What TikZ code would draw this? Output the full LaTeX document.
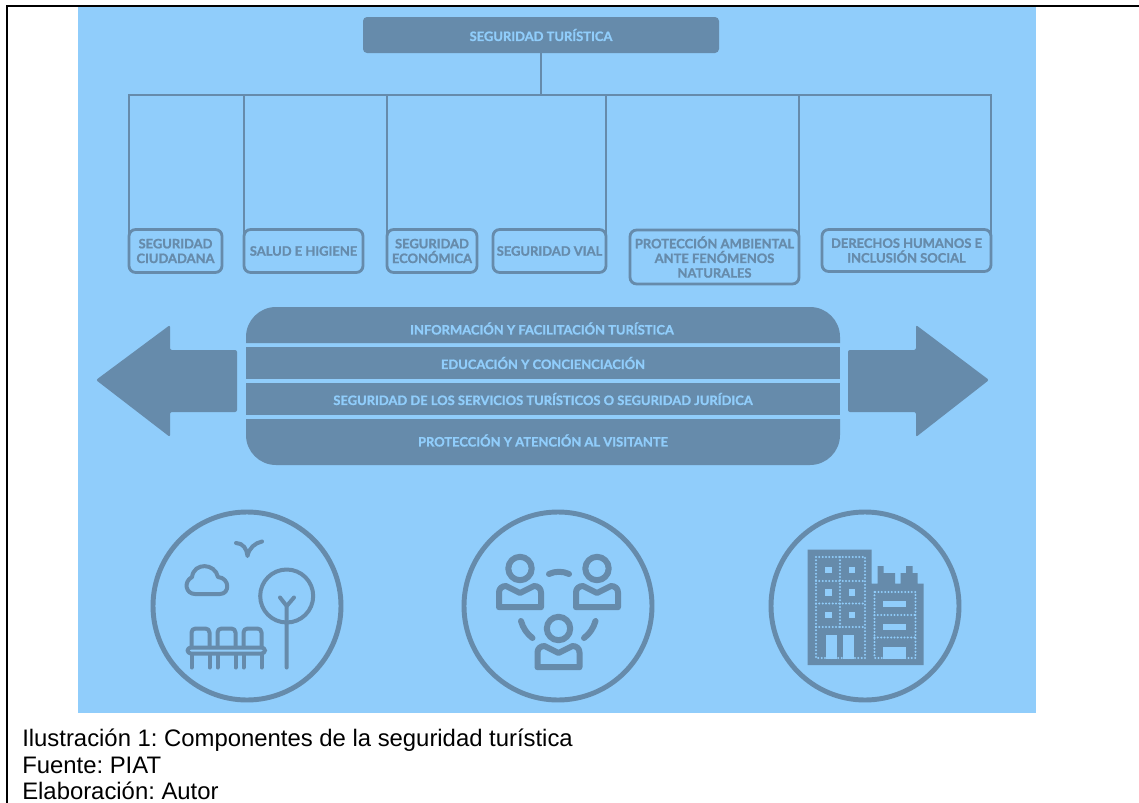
\documentclass[tikz,border=0pt]{standalone}
\usepackage{fontspec}
\setmainfont{Liberation Sans}
\newfontfamily\labelfont[BoldFeatures={FakeBold=1.2}]{Lato}
\usetikzlibrary{arrows.meta,positioning,calc}
\definecolor{skyback}{HTML}{90CDFB}
\definecolor{steel}{HTML}{668BAB}

\begin{document}
\begin{tikzpicture}[
    x=0.75pt, y=-0.75pt,
    sz/.style 2 args={minimum width=#1*0.75pt, minimum height=#2*0.75pt},
    labelfont/.style={font=\labelfont\bfseries\fontsize{9.7}{11}\selectfont},
    headbox/.style={rectangle, rounded corners=3pt, fill=steel, text=skyback, labelfont, inner sep=0pt, outer sep=0pt},
    topic/.style={rectangle, rounded corners=5pt, draw=steel, line width=2.1pt, text=steel, labelfont, align=center, inner sep=0pt, outer sep=0pt},
    row/.style={text=skyback, labelfont, inner sep=0pt, outer sep=0pt},
    link/.style={draw=steel, line width=2pt},
    ring/.style={circle, draw=steel, line width=3.7pt, inner sep=0pt, outer sep=0pt, minimum size=141pt},
    icon/.style={draw=steel, line width=3pt, line cap=round, line join=round},
    fat/.style={icon, line width=4.5pt},
    beads/.style={draw=skyback, line width=1.7pt, line cap=round, dash pattern=on 0pt off 2.5pt},
    person/.pic={
        \draw[fat] (0,0) circle (11.7);
        \draw[fat] (-21,38.7) -- (-21,24) .. controls (-21,20) and (-18,17.5) .. (-14,17.5)
            -- (0,24.5) -- (14,17.5) .. controls (18,17.5) and (21,20) .. (21,24) -- (21,38.7) -- cycle;
    }
]
    \useasboundingbox (0,0) rectangle (1139,803);

    % Frame and panel
    \fill[skyback] (78,7) rectangle (1036,713);
    \draw[line width=1.5pt] (7,803) -- (7,6) -- (1139,6);

    % Title
    \node[headbox, sz={356}{36}] (title) at (541,35) {SEGURIDAD TURÍSTICA};

    % Topics
    \node[topic, sz={93}{43}] (ciudadana) at (175.5,251) {SEGURIDAD\\CIUDADANA};
    \node[topic, sz={119}{43}] (salud) at (303.5,251) {SALUD E HIGIENE};
    \node[topic, sz={90}{43}] (economica) at (432,251) {SEGURIDAD\\ECONÓMICA};
    \node[topic, sz={113}{43}] (vial) at (549.5,251) {SEGURIDAD VIAL};
    \node[topic, sz={169}{54}] (ambiental) at (714.5,257) {PROTECCIÓN AMBIENTAL\\ANTE FENÓMENOS\\NATURALES};
    \node[topic, sz={169}{42}] (derechos) at (906.5,250.5) {DERECHOS HUMANOS E\\INCLUSIÓN SOCIAL};

    % Tree
    \coordinate (bus) at (541,95);
    \draw[link] (title) -- (bus);
    \foreach \name/\side in {ciudadana/west, salud/west, economica/west, vial/east, ambiental/east, derechos/east}
        \draw[link] (\name.\side) |- (bus);

    % Band
    \fill[steel] (246,343) -- (246,337) .. controls (246,320.4) and (259.4,307) .. (276,307) -- (810,307)
        .. controls (826.6,307) and (840,320.4) .. (840,337) -- (840,343) -- cycle;
    \fill[steel] (246,419) -- (246,435) .. controls (246,451.6) and (259.4,465) .. (276,465) -- (810,465)
        .. controls (826.6,465) and (840,451.6) .. (840,435) -- (840,419) -- cycle;
    \node[row] (info) at (542,328.5) {INFORMACIÓN Y FACILITACIÓN TURÍSTICA};
    \node[row, fill=steel, sz={594}{32}] (educa) at (543,363) {EDUCACIÓN Y CONCIENCIACIÓN};
    \node[row, fill=steel, sz={594}{32}] (servi) at (543,399) {SEGURIDAD DE LOS SERVICIOS TURÍSTICOS O SEGURIDAD JURÍDICA};
    \node[row] (prote) at (543,440.5) {PROTECCIÓN Y ATENCIÓN AL VISITANTE};

    % Arrows
    \fill[steel, rounded corners=1.5pt] (96,380) -- (170,325) -- (170,350) -- (237,350) -- (237,412) -- (170,412) -- (170,437) -- cycle;
    \fill[steel, rounded corners=1.5pt] (989,380) -- (916,325) -- (916,350) -- (848,350) -- (848,412) -- (916,412) -- (916,437) -- cycle;

    % Circles
    \node[ring] (park) at (247,606) {};
    \node[ring] (people) at (558,606) {};
    \node[ring] (city) at (865,606) {};

    % Park
    \draw[icon] (236,543) .. controls (243,543) and (247,549) .. (247.5,556) .. controls (249,548) and (255,543) .. (262,541.5);
    \draw[icon] (195,594) .. controls (186,594) and (183,582) .. (192,577)
        .. controls (194,562) and (215,563) .. (218,577) .. controls (230,578) and (230,594) .. (220,594) -- cycle;
    \draw[icon] (286.7,596) circle (26.5);
    \draw[icon] (286.7,667.5) -- (286.7,606) -- (280,597.5);
    \draw[icon] (286.7,606) -- (294,597.5);
    \foreach \seat in {191.5,217.5,243.5} {
        \draw[icon, rounded corners=3pt] (\seat,647) -- (\seat,628.5) -- ($(\seat,628.5)+(18,0)$) -- ($(\seat,647)+(18,0)$);
        \draw[icon] (\seat,654) -- (\seat,667.5);
        \draw[icon] ($(\seat,654)+(18,0)$) -- ($(\seat,667.5)+(18,0)$);
    }
    \draw[icon, rounded corners=2.5pt] (187.5,647.5) rectangle (265,653.5);

    % People
    \pic at (520,568.5) {person};
    \pic at (597,568.5) {person};
    \pic at (558.5,628.5) {person};
    \draw[fat] (549,574) .. controls (555,571) and (563,571) .. (569,574);
    \draw[fat] (521,621) .. controls (523,628) and (527,634) .. (532.5,638);
    \draw[fat] (595.5,621) .. controls (593.5,628) and (589.5,634) .. (584,638);

    % Buildings
    \fill[steel] (807.5,549.5) -- (871.5,549.5) -- (871.5,583.5) -- (877.5,583.5) -- (877.5,566) -- (883.5,566) -- (883.5,573) -- (895,573)
        -- (895,583.5) -- (900.5,583.5) -- (900.5,573) -- (906,573) -- (906,566) -- (912.5,566) -- (912.5,573) -- (917.5,573)
        -- (917.5,583.5) -- (923.5,583.5) -- (923.5,665) -- (807.5,665) -- cycle;
    \draw[beads] (816,557) rectangle (865,658);
    \draw[beads] (874.5,592) rectangle (915.5,658);
    \foreach \ylev in {581,603.5,627}
        \draw[beads] (816,\ylev) -- (865,\ylev);
    \draw[beads] (840,557) -- (840,627);
    \foreach \ylev in {615,637.5}
        \draw[beads] (874.5,\ylev) -- (915.5,\ylev);
    \foreach \wx in {825,848.5}
        \foreach \wy in {566.5,589,611.5}
            \fill[skyback] (\wx,\wy) rectangle ++(6.5,6.5);
    \fill[skyback] (825.5,635) rectangle (836.5,658.5);
    \fill[skyback] (842.5,635) rectangle (854,658.5);
    \fill[skyback] (882.5,601) rectangle (905.5,606.5);
    \fill[skyback] (882.5,624) rectangle (905.5,630);
    \fill[skyback] (882.5,647) rectangle (905.5,659);

    % Caption
    \node[anchor=north west, inner sep=0pt, align=left, font=\frenchspacing\fontsize{17.9}{20.1}\selectfont] (caption) at (22,728.5)
        {Ilustración 1: Componentes de la seguridad turística\\Fuente: PIAT\\Elaboración: Autor};
\end{tikzpicture}
\end{document}
